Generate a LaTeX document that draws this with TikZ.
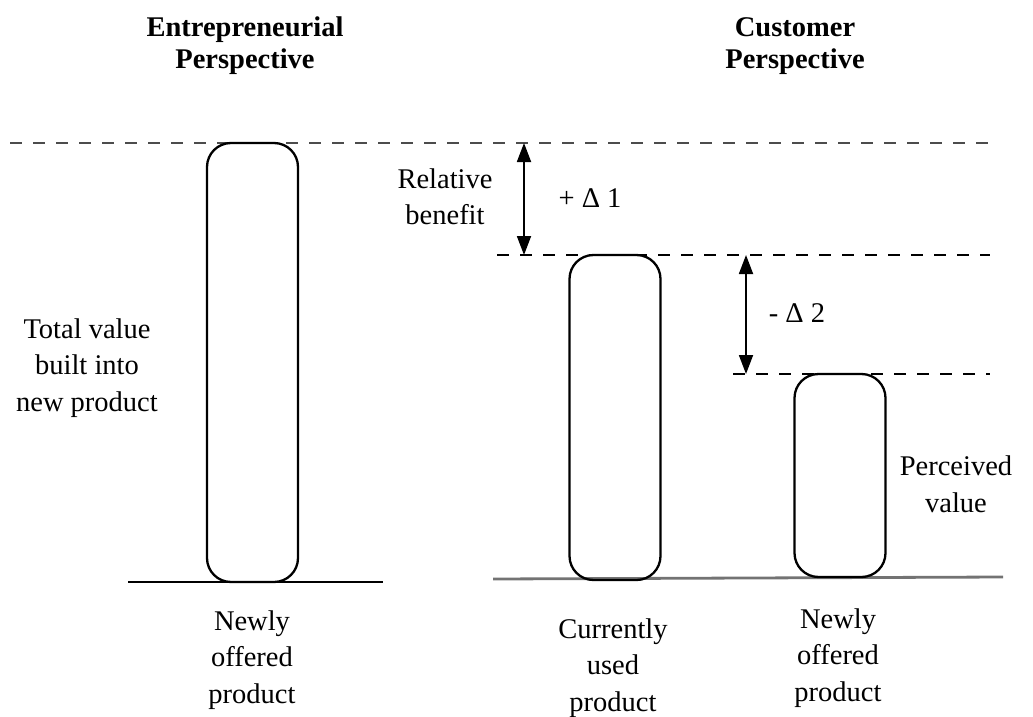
\documentclass[tikz,border=0pt]{standalone}
\usepackage{fontspec}
\setmainfont{Liberation Serif}
\usetikzlibrary{arrows.meta}
\begin{document}
\begin{tikzpicture}[x=1pt,y=-1pt,
  lbl/.style={align=center,inner sep=0pt,font=\fontsize{28.5}{36.5}\selectfont},
  head/.style={align=center,inner sep=0pt,font=\fontsize{28.5}{32}\selectfont\bfseries},
  bar/.style={draw,line width=2.3pt,rounded corners=24pt,minimum width=91pt,inner sep=0pt},
  level/.style={line width=1.7pt,dash pattern=on 12pt off 11pt},
  ground/.style={line width=2pt},
  gap/.style={line width=1.8pt,{Triangle[length=19pt,width=14pt]}-{Triangle[length=19pt,width=14pt]}}]
\useasboundingbox (0,0) rectangle (1033,717);

% headings
\node[head] (hE) at (245,46) {Entrepreneurial\\Perspective};
\node[head] (hC) at (795,46) {Customer\\Perspective};

% reference levels
\coordinate (t0) at (10,143);  \coordinate (t1) at (990,143);
\coordinate (m0) at (497,255); \coordinate (m1) at (990,255);
\coordinate (p0) at (733,374); \coordinate (p1) at (990,374);
\draw[level,black!70] (t0) -- (t1);
\draw[level] (m0) -- (m1);
\draw[level] (p0) -- (p1);

% ground lines
\coordinate (g0) at (128,582); \coordinate (g1) at (383,582);
\coordinate (c0) at (493,579); \coordinate (c1) at (1003,577);
\draw[ground] (g0) -- (g1);
\draw[ground,black!55,line width=2.8pt] (c0) -- (c1);

% value bars
\node[bar,minimum height=439pt] (b1) at (252.5,362.5) {};
\node[bar,minimum height=325pt] (b2) at (615,417.5) {};
\node[bar,minimum height=203pt] (b3) at (840,475.5) {};

% differences
\coordinate (a1t) at (524,143); \coordinate (a1b) at (524,255);
\coordinate (a2t) at (746,255); \coordinate (a2b) at (746,374);
\draw[gap] (a1t) -- (a1b);
\draw[gap] (a2t) -- (a2b);

\node[lbl] (rb) at (445,197) {Relative\\benefit};
\node[lbl] (d1) at (590,198) {+ Δ 1};
\node[lbl] (d2) at (797,313) {- Δ 2};

% side labels
\node[lbl] (tv) at (87,368) {Total value\\built into\\new product};
\node[lbl] (pv) at (956,484) {Perceived\\value};

% bar captions
\node[lbl] (n1) at (252,660) {Newly\\offered\\product};
\node[lbl] (n2) at (613,668) {Currently\\used\\product};
\node[lbl] (n3) at (838,658) {Newly\\offered\\product};
\end{tikzpicture}
\end{document}
